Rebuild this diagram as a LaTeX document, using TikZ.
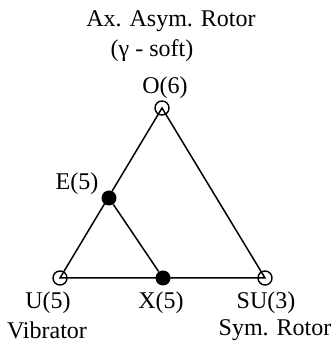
\documentclass[tikz,border=0pt]{standalone}
\usepackage{fontspec}
\setmainfont{Liberation Serif}

\begin{document}
\begin{tikzpicture}[x=0.5pt,y=0.5pt,
    opendot/.style={circle, draw=black, line width=0.7pt, inner sep=0pt, minimum size=7pt},
    fulldot/.style={circle, fill=black, inner sep=0pt, minimum size=7.5pt},
    lbl/.style={font=\fontsize{12}{14}\selectfont, inner sep=0pt}]
            \useasboundingbox (0,0) rectangle (336,347);
            
            % corners and the two inner points
            \node[opendot] (O) at (162,239) {};
            \node[opendot] (U) at (60,69) {};
            \node[opendot] (SU) at (265,69) {};
            \node[fulldot] (E) at (109,149) {};
            \node[fulldot] (X) at (163,69) {};
            
            \draw[black, line width=0.75pt] (O.center) -- (U.center) -- (SU.center) -- cycle;
            \draw[black, line width=0.75pt] (E) -- (X);
            
            % labels
            \node[lbl] (tA) at (171,326) {Ax. Asym. Rotor};
            \node[lbl] (tB) at (152,296) {(γ - soft)};
            \node[lbl] (lO) at (165,259) {O(6)};
            \node[lbl] (lE) at (77,163) {E(5)};
            \node[lbl] (lU) at (48,44) {U(5)};
            \node[lbl] (lX) at (161,44) {X(5)};
            \node[lbl] (lSU) at (266,44) {SU(3)};
            \node[lbl] (tV) at (47,17) {Vibrator};
            \node[lbl] (tS) at (275,17) {Sym. Rotor};
            
        \end{tikzpicture}
\end{document}
